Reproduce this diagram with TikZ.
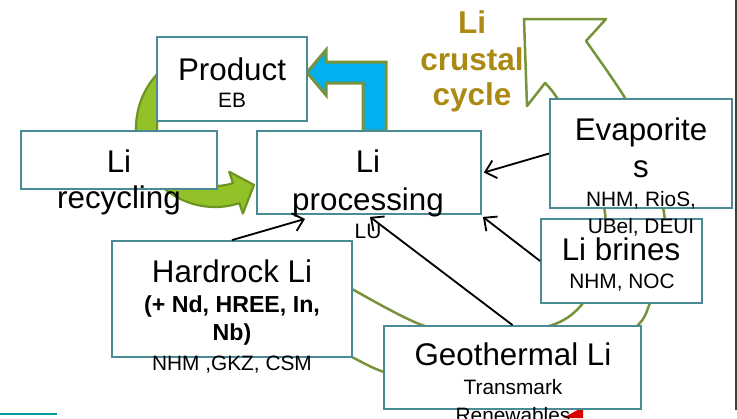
\documentclass[tikz,border=0pt]{standalone}
\usepackage{fontspec}
\setmainfont{Liberation Sans}
\usepackage{tikz}
\usetikzlibrary{arrows.meta,calc}
\definecolor{boxteal}{RGB}{75,139,150}
\definecolor{ringgreen}{RGB}{119,147,60}
\definecolor{recfill}{RGB}{146,194,40}
\definecolor{recline}{RGB}{108,148,30}
\definecolor{flowblue}{RGB}{0,176,240}
\definecolor{crustal}{RGB}{170,138,18}
\tikzstyle{box}=[draw=boxteal,line width=1.1pt,fill=white,inner sep=0pt]
\tikzstyle{big}=[font=\fontsize{18.8}{22}\selectfont,anchor=base,inner sep=0pt]
\tikzstyle{small}=[font=\fontsize{12.5}{15}\selectfont,anchor=base,inner sep=0pt]
\tikzstyle{boldtxt}=[font=\fontsize{13.9}{16}\selectfont\bfseries,anchor=base,inner sep=0pt]
\tikzstyle{cycletxt}=[font=\fontsize{18.9}{22}\selectfont\bfseries,text=crustal,anchor=base,inner sep=0pt]
\tikzstyle{link}=[draw,line width=1.1pt,-{Straight Barb[length=6pt,width=11pt]}]

\begin{document}
\begin{tikzpicture}[x=0.6pt,y=-0.6pt]
    \useasboundingbox (0,0) rectangle (737,418);

    % the big crustal cycle ring, mostly behind the boxes
    \draw[ringgreen,line width=1.5pt,fill=white,line join=round]
        plot[smooth] coordinates {(318,338) (352,357) (384,372) (440,386) (520,386) (600,356) (639,324) (650,303) (666,258) (664,213) (650,150) (625,98) (586,41)}
        -- (606,19) -- (524,19) -- (527,106)
        -- plot[smooth] coordinates {(545,83) (557,98) (586,150) (605,213) (601,265) (583,303) (555,324) (490,338) (422,325) (352,289) (325,272)}
        -- cycle;

    % recycling loop arrow
    \coordinate (rc) at (215,128);
    \draw[recline,fill=recfill,line width=1.3pt,line join=round]
        ([shift={(240:79)}]rc) arc[start angle=240,end angle=72,radius=79]
        -- ([shift={(72:90)}]rc) -- ([shift={(55.6:69)}]rc) -- ([shift={(72:46)}]rc)
        -- ([shift={(72:58)}]rc) arc[start angle=72,end angle=240,radius=58] -- cycle;

    % processing -> product
    \draw[ringgreen,fill=flowblue,line width=1.8pt]
        (363,131) -- (363,83) -- (326,83) -- (326,95) -- (307,72.5) -- (326,50) -- (326,62) -- (386,62) -- (386,131) -- cycle;

    % red mark at the bottom
    \fill[red!85!black] (583,407) -- (583,418) -- (563,418) -- cycle;

    % the boxes
    \foreach \pos/\w/\h/\name in {{(232,79)/90pt/50.4pt/prod}, {(119,160)/117.6pt/34.8pt/recyc},
        {(369,172.5)/134.4pt/49.8pt/proc}, {(641,153.5)/109.2pt/65.4pt/evap},
        {(621.5,261)/96.6pt/50.4pt/brine}, {(232,299)/144pt/69.6pt/hard}, {(512.5,367.5)/154.2pt/49.8pt/geo}}
        \node[box,minimum width=\w,minimum height=\h] (\name) at \pos {};

    % texts, placed on their baselines
    \foreach \pos/\sty/\txt/\name in {{(232,80)/big/Product/prodA}, {(232,107)/small/EB/prodB},
        {(119,172)/big/Li/recycA}, {(119,208)/big/recycling/recycB},
        {(368,172)/big/Li/procA}, {(368,210)/big/processing/procB}, {(368,238)/small/LU/procC},
        {(641,140)/big/Evaporite/evapA}, {(641,177)/big/s/evapB},
        {(641,206)/small/{NHM, RioS,}/evapC}, {(641,233)/small/{UBel, DEUI}/evapD},
        {(621,260)/big/Li brines/brineA}, {(622,288)/small/{NHM, NOC}/brineB},
        {(232,282)/big/Hardrock Li/hardA}, {(232,312)/boldtxt/{(+ Nd, HREE, In,}/hardB},
        {(232,340)/boldtxt/Nb)/hardC}, {(232,370)/small/{NHM ,GKZ, CSM}/hardD},
        {(513,365)/big/Geothermal Li/geoA}, {(513,394)/small/Transmark/geoB}, {(513,422)/small/Renewables/geoC},
        {(472,33)/cycletxt/Li/cycA}, {(472,70)/cycletxt/crustal/cycB}, {(472,105)/cycletxt/cycle/cycC}}
        \node[\sty] (\name) at \pos {\txt};

    % feeds into processing
    \path[link] (hard.north) -- ($(proc.south)+(-64,4)$);
    \path[link] (evap.west) -- ($(proc.east)+(2,0)$);
    \path[link] (brine.west) -- ($(proc.south east)+(1,2)$);
    \path[link] (geo.north) -- ($(proc.south)+(1,2)$);

    % slide edges
    \draw[teal!80!cyan,line width=1.2pt] (0,413.5) -- (57,413.5);
    \draw[black!75,line width=1pt] (736,0) -- (736,410);
\end{tikzpicture}
\end{document}
